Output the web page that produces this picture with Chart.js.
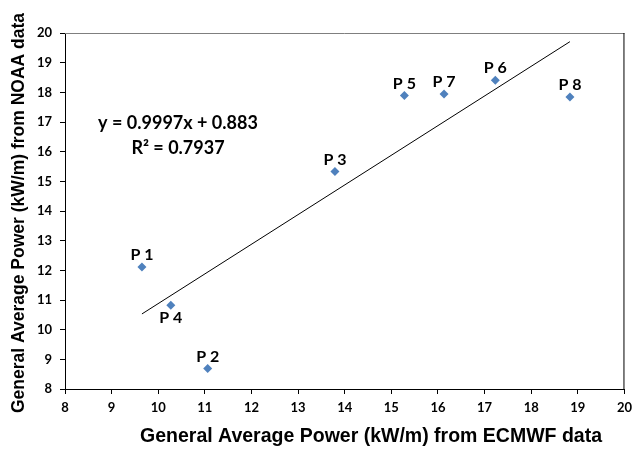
<!DOCTYPE html>
<html>
<head>
<meta charset="utf-8">
<script src="https://cdn.jsdelivr.net/npm/chart.js@4/dist/chart.umd.min.js"></script>
<style>
    html, body { margin: 0; padding: 0; background: #fff; }
</style>
</head>
<body>
<canvas id="powerChart" width="638" height="449"></canvas>
<script>
// station names and the two power estimates (kW/m)
const pointNames = ['P 1', 'P 2', 'P 3', 'P 4', 'P 5', 'P 6', 'P 7', 'P 8'];
const ecmwfPower = [9.65, 11.06, 13.79, 10.27, 15.28, 17.23, 16.13, 18.83];
const noaaPower = [12.11, 8.69, 15.33, 10.82, 17.89, 18.41, 17.94, 17.84];
const labelBelow = [false, false, false, true, false, false, false, false];

// linear trendline from the original figure
const trendSlope = 0.9997;
const trendIntercept = 0.883;
const trendR2 = 0.7937;

const X_TITLE = 'General Average Power (kW/m) from ECMWF data';
const Y_TITLE = 'General Average Power (kW/m) from NOAA data';

const TICK_FONT = { family: 'Lato', size: 13, weight: 'bold' };

const scatterPoints = ecmwfPower.map((x, i) => ({ x: x, y: noaaPower[i] }));
const xMin = Math.min(...ecmwfPower);
const xMax = Math.max(...ecmwfPower);
const trendPoints = [
    { x: xMin, y: trendSlope * xMin + trendIntercept },
    { x: xMax, y: trendSlope * xMax + trendIntercept }
];

// frame, point labels, equation and axis titles
const decorPlugin = {
    id: 'decor',
    afterDraw(chart) {
        const ctx = chart.ctx;
        const area = chart.chartArea;
        ctx.save();

        // top / right frame
        ctx.lineWidth = 1;
        ctx.strokeStyle = '#7f7f7f';
        ctx.beginPath();
        ctx.moveTo(area.left, area.top + 0.5);
        ctx.lineTo(area.right, area.top + 0.5);
        ctx.stroke();
        ctx.strokeStyle = '#000';
        ctx.beginPath();
        ctx.moveTo(area.right - 0.5, area.top);
        ctx.lineTo(area.right - 0.5, area.bottom);
        ctx.stroke();

        // point labels
        const meta = chart.getDatasetMeta(0);
        ctx.fillStyle = '#000';
        ctx.font = 'bold 16px Lato';
        ctx.textAlign = 'center';
        meta.data.forEach((pt, i) => {
            if (labelBelow[i]) {
                ctx.textBaseline = 'top';
                ctx.fillText(pointNames[i], pt.x, pt.y + 5);
            } else {
                ctx.textBaseline = 'alphabetic';
                ctx.fillText(pointNames[i], pt.x, pt.y - 7);
            }
        });

        // trendline equation
        ctx.font = 'bold 18px Lato';
        ctx.textBaseline = 'middle';
        ctx.fillText(`y = ${trendSlope}x + ${trendIntercept}`, 178, 123);
        ctx.fillText(`R\u00B2 = ${trendR2}`, 178, 148);

        // axis titles
        ctx.font = 'bold 19.5px "Liberation Sans"';
        ctx.textBaseline = 'middle';
        ctx.fillText(X_TITLE, 371, 437);
        ctx.translate(19, 213);
        ctx.rotate(-Math.PI / 2);
        ctx.font = 'bold 17.5px "Liberation Sans"';
        ctx.fillText(Y_TITLE, 0, 0);
        ctx.restore();
    }
};

new Chart(document.getElementById('powerChart'), {
    type: 'scatter',
    data: {
        datasets: [
            {
                label: 'Stations',
                data: scatterPoints,
                pointStyle: 'rectRot',
                pointRadius: 4.5,
                pointHoverRadius: 4.5,
                backgroundColor: '#4f81bd',
                borderColor: '#4f81bd',
                borderWidth: 0
            },
            {
                label: 'Linear',
                type: 'line',
                data: trendPoints,
                borderColor: '#000',
                borderWidth: 1,
                pointRadius: 0,
                fill: false
            }
        ]
    },
    options: {
        responsive: false,
        animation: false,
        devicePixelRatio: 1,
        layout: { padding: { top: 33, right: 10, left: 0, bottom: 0 } },
        plugins: {
            legend: { display: false },
            tooltip: { enabled: false }
        },
        scales: {
            x: {
                type: 'linear',
                min: 8,
                max: 20,
                ticks: { stepSize: 1, color: '#000', font: TICK_FONT, padding: 6 },
                grid: { drawOnChartArea: false, tickLength: 5, color: '#000' },
                border: { color: '#000', width: 1 },
                afterFit(scale) { scale.height = 60; }
            },
            y: {
                type: 'linear',
                min: 8,
                max: 20,
                ticks: { stepSize: 1, color: '#000', font: TICK_FONT, padding: 8 },
                grid: { drawOnChartArea: false, tickLength: 5, color: '#000' },
                border: { color: '#000', width: 1 },
                afterFit(scale) { scale.width = 65; }
            }
        }
    },
    plugins: [decorPlugin]
});
</script>
</body>
</html>
